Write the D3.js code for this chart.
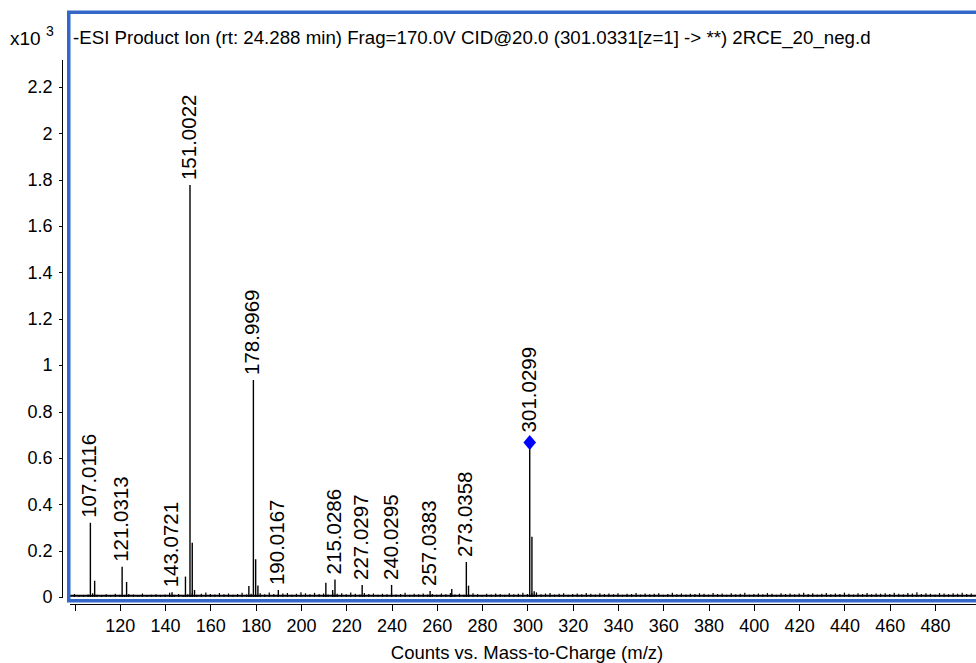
<!DOCTYPE html>
<html lang="en">
<head>
<meta charset="UTF-8">
<title>-ESI Product Ion spectrum</title>
<script src="https://d3js.org/d3.v7.min.js"></script>
<style>
  body { margin: 0; background: #fff; font-family: "Liberation Sans", Arial, sans-serif; }
  svg text { fill: #000; }
  .axis path, .axis line { stroke: #000; shape-rendering: crispEdges; }
  .axis text { font-size: 18px; font-family: "Liberation Sans", Arial, sans-serif; }
</style>
</head>
<body>
<svg width="976" height="663"></svg>
<script>
// main peaks (m/z, intensity in x10^3 counts, label)
const peakMz    = [107.0116, 108.9, 121.0313, 123.0, 143.0721, 149.0, 151.0022, 152.0, 153.0,
                   177.0, 178.9969, 180.0, 181.0, 190.0167, 211.0, 214.0, 215.0286, 227.0297,
                   240.0295, 257.0383, 266.6, 273.0358, 274.0, 301.0299, 302.0, 303.0];
const peakInt   = [0.32, 0.07, 0.13, 0.065, 0.02, 0.088, 1.777, 0.234, 0.03,
                   0.047, 0.936, 0.163, 0.05, 0.03, 0.062, 0.03, 0.076, 0.052,
                   0.052, 0.026, 0.034, 0.151, 0.049, 0.667, 0.26, 0.025];
const peakLabel = ["107.0116", "", "121.0313", "", "143.0721", "", "151.0022", "", "",
                   "", "178.9969", "", "", "190.0167", "", "", "215.0286", "227.0297",
                   "240.0295", "257.0383", "", "273.0358", "", "301.0299", "", ""];
const precursorMz = 301.0299;

// baseline noise, counts, every 2 m/z from 98
const noiseStart = 98, noiseStep = 2;
const noiseCounts = [
  4,9,5,3,7,12,6,4,8,5,10,6,3,9,7,5,11,4,6,8,
  5,7,14,6,9,4,8,12,6,10,15,9,7,13,8,11,6,9,14,7,
  10,6,12,8,15,9,7,11,13,6,10,16,12,8,14,9,11,7,13,10,
  12,8,15,10,7,13,9,11,6,10,8,12,7,9,14,6,10,8,11,7,
  9,6,11,8,13,7,10,6,9,12,8,5,10,7,11,9,6,12,8,10,
  14,9,12,16,8,11,13,7,10,12,6,9,11,8,13,10,7,12,9,11,
  8,12,6,10,9,13,7,11,8,10,12,6,9,14,8,11,7,10,9,12,
  10,7,13,9,11,6,12,8,10,14,7,9,11,8,13,10,6,12,9,11,
  8,11,14,9,12,7,10,13,8,11,9,15,10,7,12,9,13,8,11,10,
  12,9,14,10,8,13,11,16,9,12,10,7,13,11,8,12,10,14,9,11
];

const xTicks = [100,120,140,160,180,200,220,240,260,280,300,320,340,360,380,400,420,440,460,480];
const yTicks = [0,0.2,0.4,0.6,0.8,1,1.2,1.4,1.6,1.8,2,2.2];
const yTickLabels = ["0","0.2","0.4","0.6","0.8","1","1.2","1.4","1.6","1.8","2","2.2"];

const titleText = "-ESI Product Ion (rt: 24.288 min) Frag=170.0V CID@20.0 (301.0331[z=1] -> **) 2RCE_20_neg.d";
const xTitle = "Counts vs. Mass-to-Charge (m/z)";

const svg = d3.select("svg");
const x = d3.scaleLinear().domain([100, 480]).range([74.5, 935]);
const y = d3.scaleLinear().domain([0, 2.2]).range([597, 87]);

// noise sticks
const noise = noiseCounts.map((c, i) => ({mz: noiseStart + i * noiseStep, v: c / 1000}));
svg.append("line")
  .attr("x1", x(98)).attr("x2", 976)
  .attr("y1", y(0.005)).attr("y2", y(0.005))
  .attr("stroke", "#000").attr("stroke-width", 2);
svg.append("g").selectAll("line").data(noise).join("line")
  .attr("x1", d => x(d.mz)).attr("x2", d => x(d.mz))
  .attr("y1", y(0)).attr("y2", d => y(d.v + 0.004))
  .attr("stroke", "#000").attr("stroke-width", 1.2);

// peaks
const peaks = peakMz.map((m, i) => ({mz: m, v: peakInt[i], label: peakLabel[i]}));
svg.append("g").selectAll("line").data(peaks).join("line")
  .attr("x1", d => x(d.mz)).attr("x2", d => x(d.mz))
  .attr("y1", y(0)).attr("y2", d => y(d.v))
  .attr("stroke", "#000").attr("stroke-width", 1.4);

// precursor marker
const prec = peaks.find(d => d.mz === precursorMz);
svg.append("path")
  .attr("d", "M0,-7.5L6.3,0L0,7.5L-6.3,0Z")
  .attr("transform", `translate(${x(prec.mz)},${y(prec.v)})`)
  .attr("fill", "#0000ff");

// peak labels
svg.append("g").selectAll("text").data(peaks.filter(d => d.label)).join("text")
  .attr("transform", d => {
    const off = d.mz === precursorMz ? 10 : 5;
    return `translate(${x(d.mz) + 6},${y(d.v) - off}) rotate(-90)`;
  })
  .attr("font-size", 20.5)
  .text(d => d.label);

// frame
svg.append("rect")
  .attr("x", 68.75).attr("y", 12.25)
  .attr("width", 1000).attr("height", 588.5)
  .attr("fill", "none").attr("stroke", "#3468c8").attr("stroke-width", 3.5);

// y axis
const yAxis = svg.append("g").attr("class", "axis")
  .attr("transform", "translate(62.5,0)")
  .call(d3.axisLeft(y).tickValues(yTicks).tickSize(4).tickPadding(6)
    .tickFormat((d, i) => yTickLabels[i]));
yAxis.select(".domain").remove();
svg.append("line")
  .attr("x1", 62.5).attr("x2", 62.5)
  .attr("y1", y(2.317)).attr("y2", y(0))
  .attr("stroke", "#000").attr("stroke-width", 1);

// x axis
const xAxis = svg.append("g").attr("class", "axis")
  .attr("transform", "translate(0,604.5)")
  .call(d3.axisBottom(x).tickValues(xTicks).tickSize(6).tickPadding(9)
    .tickFormat(d => d === 100 ? "" : d));
xAxis.select(".domain").attr("d", `M${x(98)},0H980`);

// titles
svg.append("text").attr("x", 73).attr("y", 43.5)
  .attr("font-size", 18.7).text(titleText);
const mult = svg.append("text").attr("x", 10).attr("y", 45).attr("font-size", 19);
mult.append("tspan").text("x10 ");
mult.append("tspan").attr("font-size", 14).attr("dy", -9).text("3");
svg.append("text").attr("x", 527).attr("y", 659)
  .attr("text-anchor", "middle").attr("font-size", 18.5).text(xTitle);
</script>
</body>
</html>
